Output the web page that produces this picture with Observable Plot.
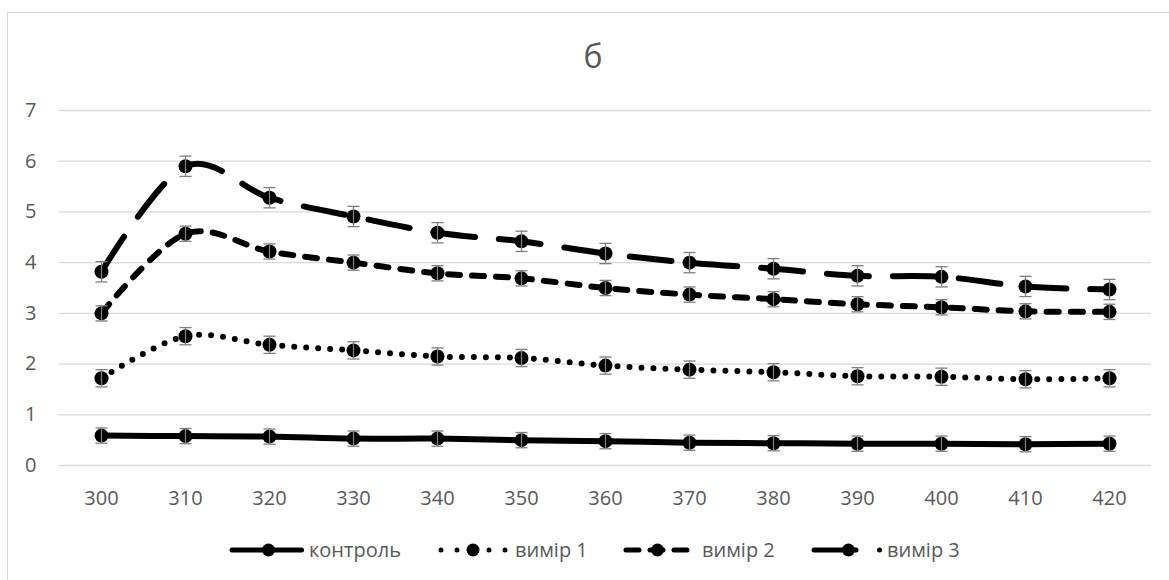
<!DOCTYPE html>
<html>
<head>
<meta charset="utf-8">
<script src="https://cdn.jsdelivr.net/npm/d3@7"></script>
<script src="https://cdn.jsdelivr.net/npm/@observablehq/plot@0.6"></script>
<style>
  html, body { margin: 0; padding: 0; background: #fff; }
  #wrap { position: relative; width: 1169px; height: 580px; overflow: hidden; font-family: "Open Sans", sans-serif; }
  #frame { position: absolute; left: 7px; top: 12px; width: 1300px; height: 700px; border: 1px solid #d9d9d9; box-sizing: border-box; }
  #title { position: relative; height: 85px; }
  #title span { position: absolute; left: 593px; top: 40px; transform: translateX(-50%); font-size: 32px; line-height: 32px; color: #595959; }
  #chart { position: relative; height: 425px; }
  #chart svg { display: block; }
  #legend { position: relative; height: 70px; }
  .lg-svg { position: absolute; top: 30px; }
  .lg-txt { position: absolute; top: 26px; font-size: 20px; line-height: 28px; color: #595959; white-space: nowrap; }
</style>
</head>
<body>
<div id="wrap">
  <div id="frame"></div>
  <div id="title"><span>б</span></div>
  <div id="chart"></div>
  <div id="legend"></div>
</div>
<script>
const xs = [300, 310, 320, 330, 340, 350, 360, 370, 380, 390, 400, 410, 420];
const seriesNames = ["контроль", "вимір 1", "вимір 2", "вимір 3"];
const control = [0.59, 0.58, 0.57, 0.53, 0.53, 0.50, 0.48, 0.45, 0.44, 0.43, 0.43, 0.42, 0.43];
const m1 = [1.72, 2.55, 2.38, 2.27, 2.15, 2.12, 1.97, 1.89, 1.84, 1.76, 1.75, 1.70, 1.72];
const m2 = [3.00, 4.57, 4.22, 4.00, 3.79, 3.69, 3.50, 3.37, 3.28, 3.18, 3.12, 3.04, 3.03];
const m3 = [3.82, 5.90, 5.28, 4.91, 4.59, 4.42, 4.18, 4.00, 3.88, 3.74, 3.72, 3.53, 3.47];
const errors = [0.15, 0.17, 0.15, 0.20];
const yTicks = [0, 1, 2, 3, 4, 5, 6, 7];

const values = [control, m1, m2, m3];
const dashes = [null, "0 12", "12 12", "42 24"];

const rows = seriesNames.flatMap((s, i) => values[i].map((v, j) => ({s, x: xs[j], v, e: errors[i]})));

const capSymbol = {
  draw(context) { context.moveTo(-6, 0); context.lineTo(6, 0); }
};

const marks = [
  Plot.ruleY(yTicks, {stroke: "#d9d9d9", strokeWidth: 1.3}),
  ...seriesNames.map((s, i) => Plot.line(rows.filter(d => d.s === s), {
    x: "x", y: "v", curve: "cardinal", stroke: "#000", strokeWidth: 6,
    strokeLinecap: "round", strokeLinejoin: "round",
    strokeDasharray: dashes[i] || undefined
  })),
  Plot.dot(rows, {x: "x", y: "v", r: 7, fill: "#000", stroke: "none"}),
  Plot.ruleX(rows, {x: "x", y1: d => d.v - d.e, y2: d => d.v + d.e, stroke: "#7f7f7f", strokeWidth: 1.3}),
  Plot.dot(rows, {x: "x", y: d => d.v + d.e, symbol: capSymbol, stroke: "#7f7f7f", strokeWidth: 1.3, fill: "none"}),
  Plot.dot(rows, {x: "x", y: d => d.v - d.e, symbol: capSymbol, stroke: "#7f7f7f", strokeWidth: 1.3, fill: "none"})
];

const plot = Plot.plot({
  width: 1169,
  height: 425,
  marginLeft: 59,
  marginRight: 18,
  marginTop: 25,
  marginBottom: 45,
  style: {fontFamily: "Open Sans, sans-serif", fontSize: "20px", color: "#595959", background: "transparent"},
  x: {type: "point", domain: xs, padding: 0.5, label: null, tickSize: 0, tickPadding: 25},
  y: {domain: [0, 7], ticks: yTicks, tickFormat: d3.format("d"), label: null, tickSize: 0, tickPadding: 23},
  marks
});
document.getElementById("chart").appendChild(plot);

// Legend (HTML, below the chart SVG)
const legend = d3.select("#legend");
const lgStart = [231.5, 441, 625.5, 813.5];
const lgEnd = [301, 505.5, 687.5, 879.5];
const lgMarker = [268, 473, 657, 848];
const lgText = [309, 515, 702, 887];
const lgDash = [null, "0 16", "13 11", "42 23.5 0 100"];
seriesNames.forEach((s, i) => {
  const off = lgStart[i] - 10;
  const svg = legend.append("svg").attr("class", "lg-svg")
    .attr("width", lgEnd[i] - off + 10).attr("height", 20)
    .style("left", off + "px");
  const ln = svg.append("line")
    .attr("x1", lgStart[i] - off).attr("x2", lgEnd[i] - off).attr("y1", 10).attr("y2", 10)
    .attr("stroke", "#000").attr("stroke-width", 5).attr("stroke-linecap", "round");
  if (lgDash[i]) ln.attr("stroke-dasharray", lgDash[i]);
  svg.append("circle").attr("cx", lgMarker[i] - off).attr("cy", 10).attr("r", 6.5).attr("fill", "#000");
  legend.append("span").attr("class", "lg-txt").style("left", lgText[i] + "px").text(s);
});
</script>
</body>
</html>
